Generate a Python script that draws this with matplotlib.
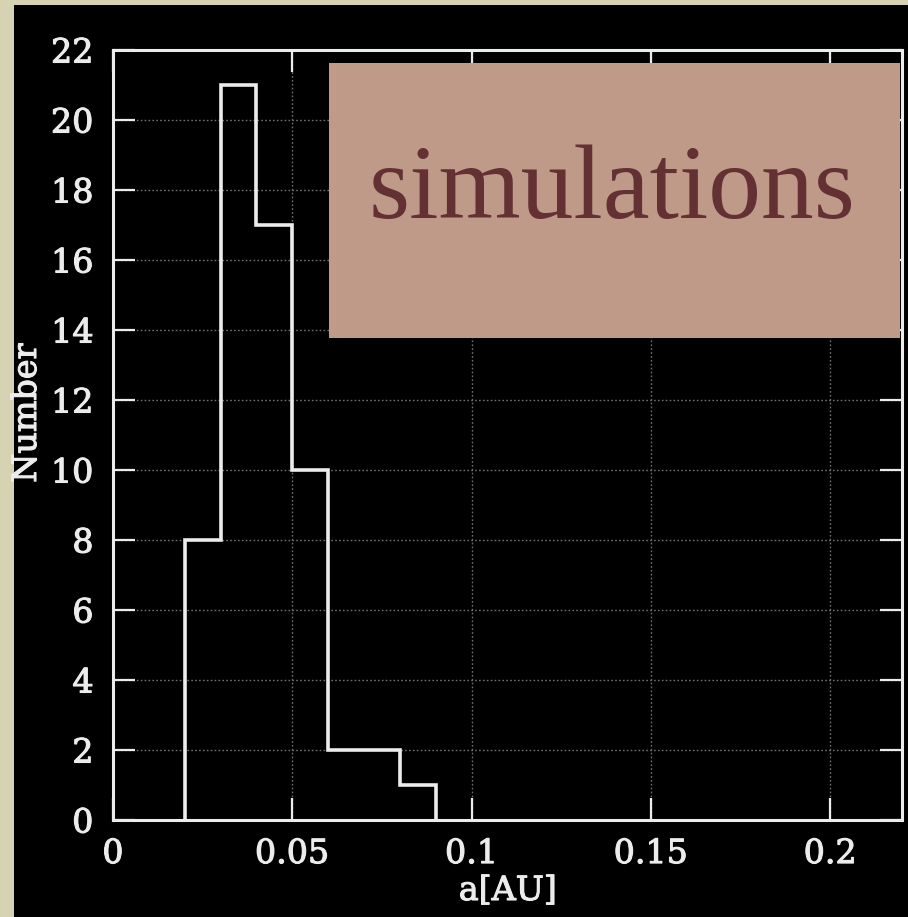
import matplotlib
matplotlib.use("Agg")
import matplotlib.pyplot as plt
from matplotlib.patches import Rectangle
import matplotlib.patheffects as pe
import numpy as np

# Histogram of semi-major axes
bin_edges = [0.02, 0.03, 0.04, 0.05, 0.06, 0.07, 0.08, 0.09]
counts = [8, 21, 17, 10, 2, 2, 1]

x_ticks = [0, 0.05, 0.1, 0.15, 0.2]
x_tick_labels = ["0", "0.05", "0.1", "0.15", "0.2"]
y_ticks = list(range(0, 23, 2))

W, H = 908, 917
fig = plt.figure(figsize=(W / 100, H / 100), dpi=100)
fig.patch.set_facecolor("#d6d3b3")

# black panel behind the plot
fig.add_artist(Rectangle((14 / W, 0), 1 - 14 / W, 1 - 5 / H,
                         transform=fig.transFigure, facecolor="black",
                         edgecolor="none", zorder=0))

ax = fig.add_axes([113 / W, (H - 820) / H, 789 / W, 770 / H])
ax.set_facecolor("black")
fg = "#ececec"
tick_font = dict(family="DejaVu Serif", size=24)
stroke = [pe.withStroke(linewidth=0.8, foreground=fg)]

ax.stairs(counts, bin_edges, color=fg, linewidth=2.6, zorder=3)

ax.set_xlim(0, 0.22)
ax.set_ylim(0, 22)
ax.set_xticks(x_ticks)
ax.set_xticklabels(x_tick_labels)
ax.set_yticks(y_ticks)

for s in ax.spines.values():
    s.set_color(fg)
    s.set_linewidth(2.2)

ax.tick_params(axis="both", which="major", direction="in", length=16,
               width=1.6, color=fg, labelcolor=fg,
               top=True, right=True)
ax.tick_params(axis="y", pad=14)
ax.tick_params(axis="x", pad=13)
for lab in ax.get_xticklabels() + ax.get_yticklabels():
    lab.set_fontproperties(tick_font)
    lab.set_path_effects(stroke)

ax.grid(True, color="#707070", linestyle=(0, (1.2, 1.6)), linewidth=1.0)
ax.set_axisbelow(True)

fig.text(508 / W, 1 - 891 / H, "a[AU]", color=fg, ha="center", va="center",
         path_effects=stroke, **tick_font)
fig.text(27 / W, 1 - 413 / H, "Number", color=fg, ha="center", va="center",
         rotation=90, path_effects=stroke, **tick_font)

# label box
fig.add_artist(Rectangle((329 / W, 1 - 338 / H), (900 - 329) / W, (338 - 63) / H,
                         transform=fig.transFigure, facecolor="#bf9a88",
                         edgecolor="none", zorder=5))
fig.text(612 / W, 1 - 218 / H, "simulations", color="#633033", fontsize=76,
         family="Liberation Serif", ha="center", va="baseline", zorder=6)

fig.savefig("out.png", dpi=100, facecolor=fig.get_facecolor())
